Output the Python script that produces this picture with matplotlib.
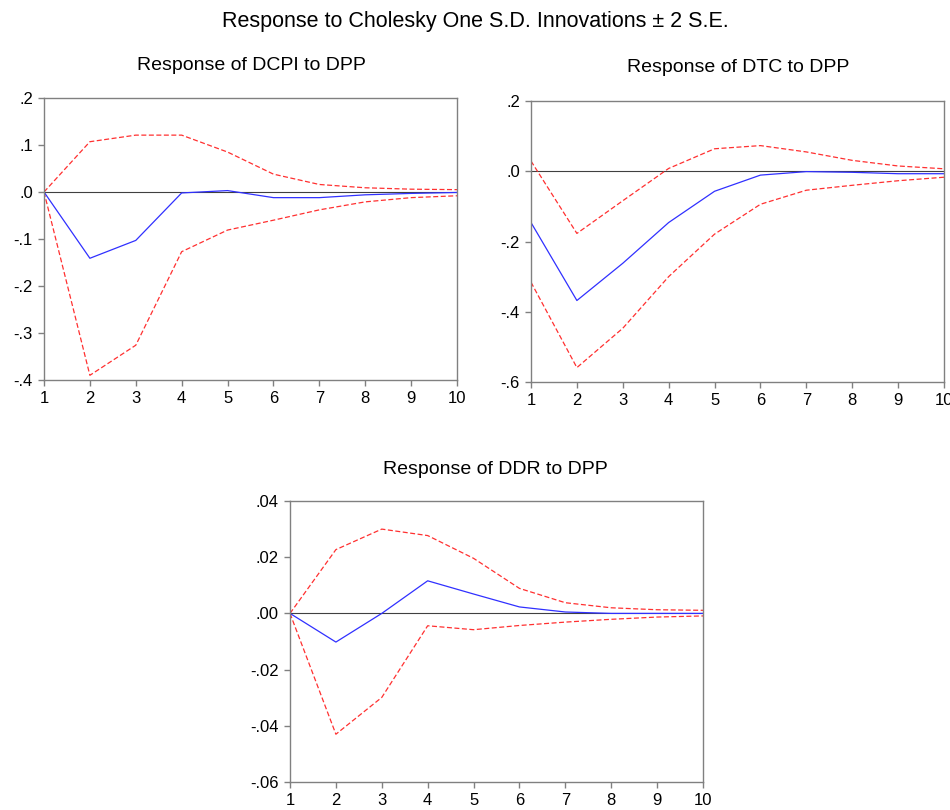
import matplotlib
matplotlib.use('Agg')
from matplotlib import pyplot as plt
from matplotlib.ticker import FuncFormatter
import numpy as np

plt.rcParams['font.family'] = ['Liberation Sans', 'DejaVu Sans']

periods = np.arange(1, 11)

# Response of DCPI to DPP
dcpi_resp = [0.0, -0.141, -0.103, -0.002, 0.003, -0.012, -0.012, -0.006, -0.003, -0.001]
dcpi_upper = [0.0, 0.107, 0.121, 0.121, 0.085, 0.038, 0.016, 0.009, 0.006, 0.005]
dcpi_lower = [0.0, -0.390, -0.326, -0.127, -0.081, -0.060, -0.038, -0.021, -0.012, -0.008]

# Response of DTC to DPP
dtc_resp = [-0.146, -0.368, -0.262, -0.146, -0.057, -0.011, -0.001, -0.003, -0.007, -0.007]
dtc_upper = [0.029, -0.177, -0.084, 0.008, 0.064, 0.073, 0.055, 0.031, 0.015, 0.007]
dtc_lower = [-0.316, -0.559, -0.447, -0.300, -0.179, -0.094, -0.054, -0.040, -0.027, -0.017]

# Response of DDR to DPP
ddr_resp = [0.0, -0.0102, 0.0, 0.0116, 0.0069, 0.0023, 0.0005, 0.0, 0.0, 0.0]
ddr_upper = [0.0, 0.0227, 0.0300, 0.0277, 0.0196, 0.0089, 0.0038, 0.0020, 0.0013, 0.0011]
ddr_lower = [0.0, -0.0430, -0.0299, -0.0044, -0.0058, -0.0043, -0.0031, -0.0021, -0.0013, -0.0009]


def dotfmt(decimals):
    def f(v, pos):
        s = '%.*f' % (decimals, v)
        if s.startswith('-0'):
            s = '-' + s[2:]
        elif s.startswith('0'):
            s = s[1:]
        return s
    return FuncFormatter(f)


def panel(rect, title, resp, upper, lower, ylim, yticks, decimals, title_xy):
    ax = fig.add_axes(rect)
    ax.axhline(0, color='#404040', linewidth=0.8, zorder=1)
    ax.plot(periods, upper, color='#ff3030', linestyle=(0, (4, 2)), linewidth=0.9)
    ax.plot(periods, lower, color='#ff3030', linestyle=(0, (4, 2)), linewidth=0.9)
    ax.plot(periods, resp, color='#3030ff', linewidth=0.9)
    ax.set_xlim(1, 10)
    ax.set_ylim(*ylim)
    ax.set_xticks(periods)
    ax.set_yticks(yticks)
    ax.yaxis.set_major_formatter(dotfmt(decimals))
    for sp in ax.spines.values():
        sp.set_color('#808080')
        sp.set_linewidth(1.0)
    ax.tick_params(direction='out', length=4, width=1, color='#808080',
                   labelsize=12, labelcolor='black', pad=4)
    fig.text(title_xy[0] / W, 1 - title_xy[1] / H, title, ha='center', va='center',
             fontsize=14)
    return ax


W, H = 950, 810
fig = plt.figure(figsize=(W / 100, H / 100), dpi=100)


def rect(l, t, r, b):
    return [l / W, 1 - b / H, (r - l) / W, (b - t) / H]


fig.text(0.5, 1 - 22 / H, 'Response to Cholesky One S.D. Innovations \u00b1 2 S.E.',
         ha='center', va='center', fontsize=15.5)

panel(rect(44, 98, 457, 380), 'Response of DCPI to DPP',
      dcpi_resp, dcpi_upper, dcpi_lower, (-0.4, 0.2),
      [-0.4, -0.3, -0.2, -0.1, 0.0, 0.1, 0.2], 1, (251, 66))
panel(rect(531, 101, 944, 382), 'Response of DTC to DPP',
      dtc_resp, dtc_upper, dtc_lower, (-0.6, 0.2),
      [-0.6, -0.4, -0.2, 0.0, 0.2], 1, (738, 68))
panel(rect(290, 501, 703, 782), 'Response of DDR to DPP',
      ddr_resp, ddr_upper, ddr_lower, (-0.06, 0.04),
      [-0.06, -0.04, -0.02, 0.0, 0.02, 0.04], 2, (495, 469))

fig.savefig('out.png', dpi=100)
